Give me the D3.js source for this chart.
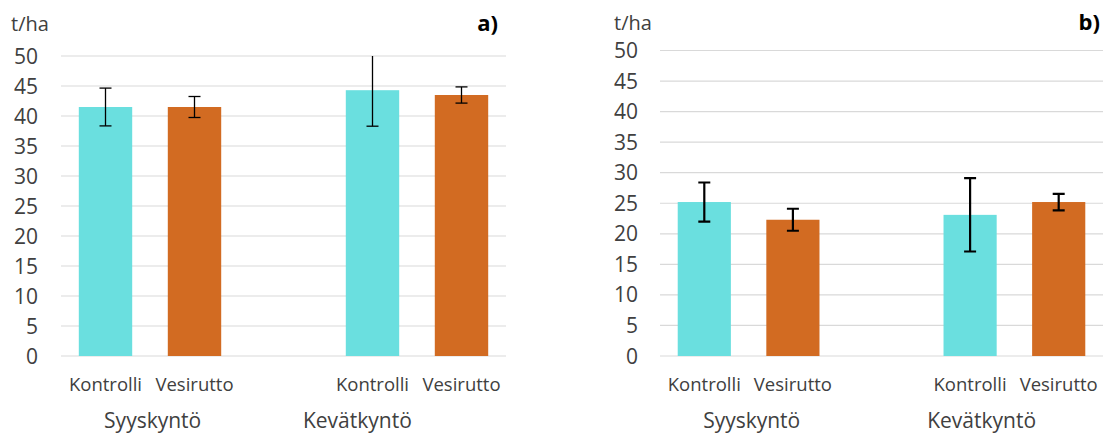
<!DOCTYPE html>
<html>
<head>
<meta charset="utf-8">
<script src="https://cdn.jsdelivr.net/npm/d3@7"></script>
<style>
  html, body { margin: 0; padding: 0; background: #ffffff; }
  svg { display: block; }
  text { font-family: "Open Sans", "Noto Sans", sans-serif; fill: #404040; }
</style>
</head>
<body>
<svg id="chart" width="1104" height="435"></svg>
<script>
// Categories along the x axis (the empty slot separates the two tillage groups)
const categories = ["Kontrolli", "Vesirutto", "", "Kontrolli", "Vesirutto"];
const groups = ["Syyskyntö", "Kevätkyntö"];
const yTicks = [0, 5, 10, 15, 20, 25, 30, 35, 40, 45, 50];

// Yields (t/ha) and error half-widths, panel a)
const yieldA = [41.5, 41.5, null, 44.3, 43.5];
const errA   = [3.15, 1.75, null, 6.0, 1.35];

// Yields (t/ha) and error half-widths, panel b)
const yieldB = [25.2, 22.3, null, 23.1, 25.2];
const errB   = [3.2, 1.8, null, 6.0, 1.35];

const colors = { "Kontrolli": "#6ADFDF", "Vesirutto": "#D26B22" };

const panels = [
  { tag: "a)", values: yieldA, errors: errA,
    left: 61, right: 506, top: 56, bottom: 356,
    tickX: 38, unitX: 11, unitY: 31, tagX: 498, tagY: 31,
    groupAt: [1.03, 3.33], errWidth: 1.3 },
  { tag: "b)", values: yieldB, errors: errB,
    left: 660, right: 1103, top: 50.5, bottom: 356,
    tickX: 638, unitX: 614, unitY: 30, tagX: 1100, tagY: 30,
    groupAt: [1.035, 3.63], errWidth: 2.2 }
];

const svg = d3.select("#chart");

panels.forEach((p, pi) => {
  const g = svg.append("g");

  const x = d3.scaleBand()
    .domain(d3.range(categories.length))
    .range([p.left, p.right])
    .paddingInner(0.4)
    .paddingOuter(0.2);

  const y = d3.scaleLinear().domain([0, 50]).range([p.bottom, p.top]);

  // Clip region: error bars that run past the axis maximum are cut off
  const clipId = "plot-clip-" + pi;
  svg.append("defs").append("clipPath").attr("id", clipId)
    .append("rect")
    .attr("x", p.left).attr("y", p.top)
    .attr("width", p.right - p.left).attr("height", p.bottom - p.top + 2);

  // Horizontal gridlines
  g.selectAll("line.grid").data(yTicks).join("line")
    .attr("class", "grid")
    .attr("x1", p.left).attr("x2", p.right)
    .attr("y1", d => y(d)).attr("y2", d => y(d))
    .attr("stroke", "#D9D9D9").attr("stroke-width", 1.2);

  // Y tick labels
  g.selectAll("text.ytick").data(yTicks).join("text")
    .attr("class", "ytick")
    .attr("x", p.tickX).attr("y", d => y(d))
    .attr("dy", "0.36em")
    .attr("text-anchor", "end")
    .style("font-size", "21px")
    .text(d => d);

  // Unit label and panel tag
  g.append("text").attr("x", p.unitX).attr("y", p.unitY)
    .style("font-size", "20px").text("t/ha");
  g.append("text").attr("x", p.tagX).attr("y", p.tagY)
    .attr("text-anchor", "end")
    .style("font-size", "22px").style("font-weight", "bold")
    .style("fill", "#000").text(p.tag);

  const rows = categories.map((c, i) => ({ i, c, v: p.values[i], e: p.errors[i] }))
    .filter(d => d.v != null);

  // Bars
  g.selectAll("rect.bar").data(rows).join("rect")
    .attr("class", "bar")
    .attr("x", d => x(d.i))
    .attr("width", x.bandwidth())
    .attr("y", d => y(d.v))
    .attr("height", d => y(0) - y(d.v))
    .attr("fill", d => colors[d.c]);

  // Error bars
  const eg = g.append("g").attr("clip-path", `url(#${clipId})`)
    .attr("stroke", "#000").attr("stroke-width", p.errWidth).attr("fill", "none");
  const cap = 6;
  rows.forEach(d => {
    const cx = x(d.i) + x.bandwidth() / 2;
    const hi = d.v + d.e, lo = d.v - d.e;
    eg.append("line").attr("x1", cx).attr("x2", cx).attr("y1", y(hi)).attr("y2", y(lo));
    eg.append("line").attr("x1", cx - cap).attr("x2", cx + cap).attr("y1", y(hi)).attr("y2", y(hi));
    eg.append("line").attr("x1", cx - cap).attr("x2", cx + cap).attr("y1", y(lo)).attr("y2", y(lo));
  });

  // Category labels
  g.selectAll("text.cat").data(rows).join("text")
    .attr("class", "cat")
    .attr("x", d => x(d.i) + x.bandwidth() / 2)
    .attr("y", 391)
    .attr("text-anchor", "middle")
    .style("font-size", "18.5px")
    .text(d => d.c);

  // Group labels
  g.selectAll("text.group").data(groups).join("text")
    .attr("class", "group")
    .attr("x", (d, k) => p.left + p.groupAt[k] * x.step())
    .attr("y", 428)
    .attr("text-anchor", "middle")
    .style("font-size", "21px")
    .text(d => d);
});
</script>
</body>
</html>
